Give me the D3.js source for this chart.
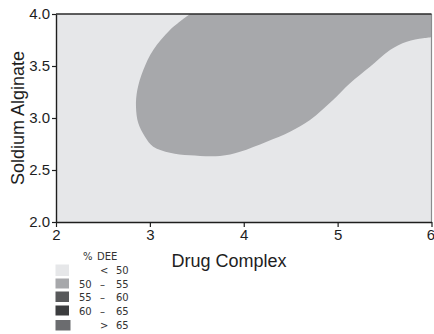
<!DOCTYPE html>
<html>
<head>
<meta charset="utf-8">
<script src="https://cdn.jsdelivr.net/npm/d3@7"></script>
<style>
  html, body { margin: 0; padding: 0; background: #fff; }
  svg { display: block; }
</style>
</head>
<body>
<svg id="chart" width="434" height="334"></svg>
<script>
// Response surface: % DEE as a function of drug complex and sodium alginate
const xDomain = [2, 6];
const yDomain = [2, 4];
const xTicks = [2, 3, 4, 5, 6];
const yTicks = [2.0, 2.5, 3.0, 3.5, 4.0];

// Contour boundary of the 50–55 % DEE zone (drug complex, sodium alginate)
const zoneX = [3.427, 3.214, 3.036, 2.930, 2.866, 2.852, 2.877, 2.948, 3.036, 3.214,
               3.427, 3.747, 3.960, 4.244, 4.493, 4.706, 4.951, 5.132, 5.345, 5.558,
               5.736, 5.910, 6.000];
const zoneY = [4.000, 3.846, 3.654, 3.462, 3.269, 3.109, 2.949, 2.820, 2.724, 2.666,
               2.641, 2.635, 2.676, 2.772, 2.868, 2.981, 3.173, 3.334, 3.493, 3.654,
               3.734, 3.766, 3.776];

// Legend classes
const legendLow = ["", "50", "55", "60", ""];
const legendSym = ["<", "–", "–", "–", ">"];
const legendHigh = ["50", "55", "60", "65", "65"];
const legendColors = ["#e6e7e9", "#a7a8ab", "#58595b", "#3c3d3f", "#6b6c6f"];

const svg = d3.select("#chart");
const margin = { left: 56, right: 2.5, top: 14, bottom: 112 };
const W = 434, H = 334;

const x = d3.scaleLinear().domain(xDomain).range([margin.left, W - margin.right]);
const y = d3.scaleLinear().domain(yDomain).range([H - margin.bottom, margin.top]);

const font = "'Liberation Sans', Arial, sans-serif";

// Base region (< 50)
svg.append("rect")
  .attr("x", x(xDomain[0])).attr("y", y(yDomain[1]))
  .attr("width", x(xDomain[1]) - x(xDomain[0]))
  .attr("height", y(yDomain[0]) - y(yDomain[1]))
  .attr("fill", legendColors[0]);

// 50–55 zone, closed along the top-right corner
const zonePts = zoneX.map((v, i) => [v, zoneY[i]]);
const line = d3.line().x(d => x(d[0])).y(d => y(d[1])).curve(d3.curveCatmullRom.alpha(0.5));
const boundary = line(zonePts);
const closing = `L${x(xDomain[1])},${y(yDomain[1])}L${x(zoneX[0])},${y(yDomain[1])}Z`;
svg.append("path")
  .attr("d", boundary + closing)
  .attr("fill", legendColors[1]);

// Plot frame
svg.append("line")
  .attr("x1", x(xDomain[1])).attr("x2", x(xDomain[1]))
  .attr("y1", y(yDomain[1])).attr("y2", y(yDomain[0]))
  .attr("stroke", "#8a8b8d").attr("stroke-width", 1.2);
svg.append("line")
  .attr("x1", x(xDomain[0])).attr("x2", x(xDomain[1]))
  .attr("y1", y(yDomain[1])).attr("y2", y(yDomain[1]))
  .attr("stroke", "#2a2a2a").attr("stroke-width", 1.3);

// Axes
const xAxis = d3.axisBottom(x).tickValues(xTicks).tickFormat(d3.format("d"))
  .tickSizeOuter(0).tickSizeInner(5).tickPadding(2);
const yAxis = d3.axisLeft(y).tickValues(yTicks).tickFormat(d3.format(".1f"))
  .tickSizeOuter(0).tickSizeInner(4).tickPadding(2);

const gx = svg.append("g").attr("transform", `translate(0,${y(yDomain[0])})`).call(xAxis);
const gy = svg.append("g").attr("transform", `translate(${x(xDomain[0])},0)`).call(yAxis);

[gx, gy].forEach(g => {
  g.select(".domain").attr("stroke", "#1e1e1e").attr("stroke-width", 1.4);
  g.selectAll(".tick line").attr("stroke", "#1e1e1e").attr("stroke-width", 1.2);
  g.selectAll(".tick text").attr("fill", "#1e1e1e")
    .style("font-family", font).style("font-size", "15px");
});
// keep the last x label inside the page edge
gx.selectAll(".tick text").filter(d => d === xDomain[1])
  .attr("text-anchor", "end").attr("dx", "3");

// Axis titles
svg.append("text")
  .attr("x", 229).attr("y", 267)
  .attr("text-anchor", "middle")
  .style("font-family", font).style("font-size", "18px").attr("fill", "#1e1e1e")
  .text("Drug Complex");

svg.append("text")
  .attr("transform", `translate(24,${(y(yDomain[0]) + y(yDomain[1])) / 2}) rotate(-90)`)
  .attr("text-anchor", "middle")
  .style("font-family", font).style("font-size", "18px").attr("fill", "#1e1e1e")
  .text("Soldium Alginate");

// Legend
const lg = svg.append("g").style("font-family", "'DejaVu Sans', sans-serif")
  .style("font-size", "10px").attr("fill", "#333");
lg.append("text").attr("x", 83).attr("y", 260).text("%");
lg.append("text").attr("x", 97).attr("y", 260).text("DEE");

const rowY = [264.5, 278.5, 291.5, 305.5, 320];
const rowH = [11.5, 10, 10.5, 10, 10.5];
legendColors.forEach((c, i) => {
  lg.append("rect")
    .attr("x", 55.5).attr("y", rowY[i])
    .attr("width", i === 4 ? 15 : 13.5).attr("height", rowH[i])
    .attr("fill", c);
  const base = rowY[i] + 9;
  lg.append("text").attr("x", 79).attr("y", base).text(legendLow[i]);
  lg.append("text").attr("x", 100).attr("y", base).text(legendSym[i]);
  lg.append("text").attr("x", 116).attr("y", base).text(legendHigh[i]);
});
</script>
</body>
</html>
